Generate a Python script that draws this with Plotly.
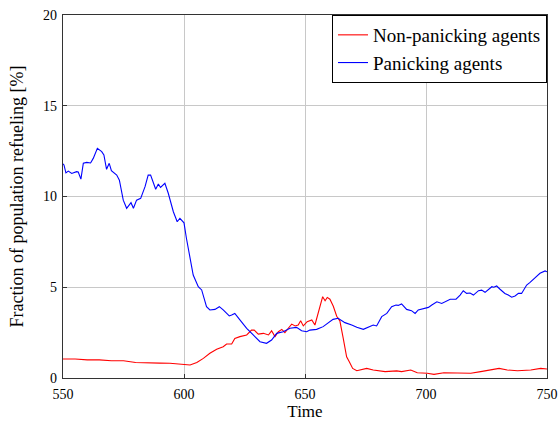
import plotly.graph_objects as go

# Panicking agents (blue)
blue_t = [550, 550.4, 551.2, 552.2, 553.6, 555.6, 556.3, 557.4, 558.4, 559.8, 561.4, 562.5, 564.2, 566, 566.9,
          568, 569.1, 570, 572.2, 573.3, 574.9, 576.3, 578.1, 579.1, 580.4, 582.1, 583.9, 585.2, 586.2, 588.3,
          589.4, 590.3, 592.1, 593.5, 595.6, 597.2, 598.3, 600, 601, 602.5, 603.8, 605.9, 607.3, 609.3, 610.7,
          612.8, 614.6, 616.2, 618.7, 619.7, 621, 623.1, 625.9, 628.6, 631.4, 634.1, 636.2, 638.3, 641, 643.8,
          646.5, 648.6, 650.7, 652, 654.8, 657.5, 659.6, 661.6, 663.7, 666.5, 669.3, 671.4, 674.1, 676.6, 678.2,
          679.6, 681.7, 683.8, 685.8, 687.6, 688.5, 689.9, 692, 694, 695.5, 696.8, 698.9, 701, 702.4, 704.5,
          706.5, 708.6, 710, 712.4, 714.1, 715.4, 716.8, 718.2, 719.6, 721.7, 723, 724.4, 725.8, 727.2, 728,
          729.2, 730.6, 732.6, 734, 735.4, 736.8, 738.2, 739.5, 741.6, 743, 745, 747.1, 749.2, 750]
blue_v = [11.8, 11.74, 11.3, 11.4, 11.27, 11.37, 11.35, 10.96, 11.83, 11.88, 11.85, 12.1, 12.65, 12.47, 12.29,
          11.5, 11.83, 11.42, 11.18, 10.9, 9.8, 9.35, 9.66, 9.35, 9.8, 9.9, 10.54, 11.18, 11.18, 10.4,
          10.69, 10.5, 10.73, 10.18, 9.16, 8.61, 8.8, 8.55, 7.7, 6.5, 5.67, 5.03, 4.85, 3.93, 3.75,
          3.78, 3.93, 3.75, 3.42, 3.47, 3.56, 3.2, 2.74, 2.37, 2.0, 1.91, 2.09, 2.46, 2.55, 2.74,
          2.79, 2.6, 2.55, 2.64, 2.68, 2.83, 3.05, 3.23, 3.29, 3.05, 2.92, 2.79, 2.68, 2.83, 2.92,
          2.87, 3.38, 3.56, 3.93, 4.02, 4.0, 4.08, 3.78, 3.71, 3.56, 3.75, 3.84, 3.89, 4.02, 4.2,
          4.11, 4.26, 4.34, 4.34, 4.57, 4.81, 4.66, 4.68, 4.57, 4.81, 4.84, 4.72, 4.89, 5.03, 5.0,
          5.07, 4.89, 4.66, 4.57, 4.45, 4.52, 4.66, 4.66, 5.12, 5.27, 5.49, 5.77, 5.9, 5.85]

# Non-panicking agents (red)
red_t = [550, 555, 560, 565, 570, 575, 580, 585, 590, 594.2, 597, 599.7, 602.5, 605.3, 608, 610.7, 613.5,
         616.2, 617.6, 619.7, 621, 623.1, 625.9, 627.9, 629, 630.7, 632.8, 634.9, 636.2, 637.6, 639, 640.4,
         641.7, 643.1, 644.5, 645.9, 647.2, 648.2, 649.3, 650.9, 652.8, 654.1, 655.5, 657.3, 658.3, 659.2,
         660.3, 661.7, 663.1, 664.4, 665.8, 667.2, 668.3, 669.7, 671.4, 675.5, 678.2, 683.1, 687.9, 689.9,
         693.7, 696.4, 700.5, 703.3, 707.4, 711.6, 715.7, 718.5, 722.6, 726.7, 730.2, 733.6, 737.8, 743.3,
         747.4, 750]
red_v = [1.05, 1.05, 1.0, 1.0, 0.95, 0.95, 0.85, 0.82, 0.82, 0.81, 0.77, 0.72, 0.72, 0.85, 1.08, 1.36, 1.58,
         1.72, 1.87, 1.87, 2.18, 2.28, 2.37, 2.64, 2.64, 2.42, 2.46, 2.37, 2.6, 2.28, 2.55, 2.68,
         2.5, 2.74, 2.97, 2.87, 2.92, 3.16, 2.87, 3.1, 3.2, 2.92, 3.65, 4.48, 4.26, 4.44,
         4.34, 3.95, 3.4, 3.15, 2.18, 1.17, 0.9, 0.53, 0.4, 0.53, 0.44, 0.35, 0.39, 0.35,
         0.44, 0.29, 0.26, 0.2, 0.29, 0.29, 0.26, 0.26, 0.35, 0.44, 0.53, 0.44, 0.4, 0.44,
         0.53, 0.5]

x_ticks = [550, 600, 650, 700, 750]
y_ticks = [0, 5, 10, 15, 20]

font_family = "Liberation Serif, DejaVu Serif, serif"

fig = go.Figure()
fig.add_trace(go.Scatter(x=red_t, y=red_v, mode="lines", name="Non-panicking agents",
                         line=dict(color="#ff0000", width=1.1)))
fig.add_trace(go.Scatter(x=blue_t, y=blue_v, mode="lines", name="Panicking agents",
                         line=dict(color="#0000ff", width=1.1)))

axis_common = dict(showline=True, linecolor="#333333", linewidth=1.2, mirror=True,
                   ticks="inside", ticklen=4, tickcolor="#333333",
                   showgrid=True, gridcolor="#c8c8c8", gridwidth=1, zeroline=False,
                   automargin=False,
                   tickfont=dict(family=font_family, size=14, color="black"))

fig.update_layout(
    width=558, height=421,
    margin=dict(l=63, r=11, t=15, b=43),
    paper_bgcolor="white", plot_bgcolor="white",
    font=dict(family=font_family, color="black"),
    xaxis=dict(range=[550, 750], tickvals=x_ticks, ticklabelstandoff=3,
               title=dict(text="Time", font=dict(family=font_family, size=17), standoff=13),
               **axis_common),
    yaxis=dict(range=[0, 20], tickvals=y_ticks, ticklabelstandoff=2,
               title=dict(text="Fraction of population refueling [%]", font=dict(family=font_family, size=18), standoff=14),
               **axis_common),
    legend=dict(x=1, y=1, xanchor="right", yanchor="top", bgcolor="white",
                bordercolor="black", borderwidth=1, itemwidth=30,
                font=dict(family=font_family, size=19), tracegroupgap=0),
    showlegend=True,
)

fig.write_html("out.html")
